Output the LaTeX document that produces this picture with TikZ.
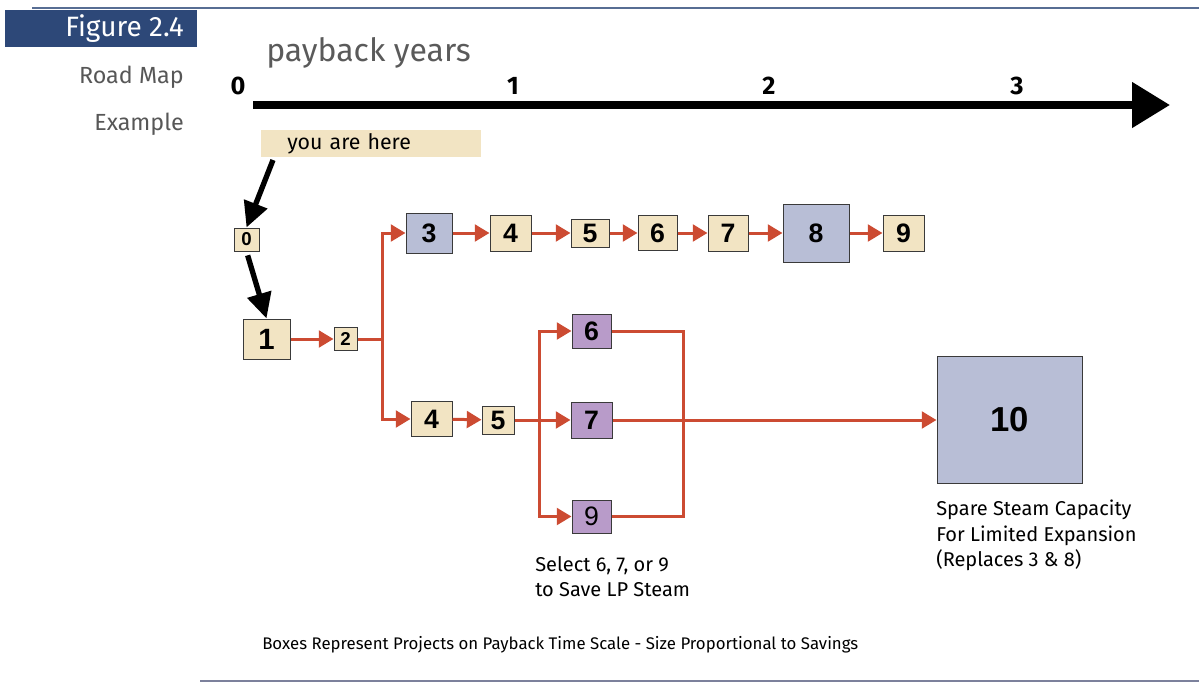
\documentclass[tikz,border=0pt]{standalone}
\usepackage{fontspec}
\setmainfont{Fira Sans}
\newfontfamily\boxfont{Liberation Sans}
\usetikzlibrary{arrows.meta}

\definecolor{figblue}{HTML}{2D4878}
\definecolor{rulegray}{HTML}{7C819C}
\definecolor{projtan}{HTML}{F2E4C3}
\definecolor{projslate}{HTML}{B8BED6}
\definecolor{projlilac}{HTML}{B89BC9}
\definecolor{linkred}{HTML}{CC4B32}
\definecolor{boxline}{HTML}{3A3A3A}
\definecolor{titlegray}{HTML}{5A5A5A}

\begin{document}
\begin{tikzpicture}[x=0.75pt,y=0.75pt,yscale=-1,xscale=1,
  proj/.style={draw=boxline, line width=0.75pt, inner sep=0pt, font=\boxfont\bfseries\fontsize{20}{20}\selectfont},
  tan/.style={proj, fill=projtan},
  slate/.style={proj, fill=projslate},
  lilac/.style={proj, fill=projlilac},
  boxsize/.style 2 args={minimum width=#1pt, minimum height=#2pt},
  redarr/.style={draw=linkred, line width=2.25pt, -{Triangle[length=11pt,width=12.5pt]}},
  redline/.style={draw=linkred, line width=2.25pt},
  blkarr/.style={draw=black, line width=4pt, -{Triangle[length=19pt,width=18pt]}},
  note/.style={anchor=north west, inner sep=0pt, align=left, font=\fontsize{15}{19}\selectfont}
  ]
  \useasboundingbox (0,0) rectangle (1199,682);

  %Rules and figure tag
  \draw [figblue!80, line width=1.5pt] (32,7.5) -- (1199,7.5) ;
  \draw [rulegray, line width=1.5pt] (200,681) -- (1199,681) ;
  \fill [figblue] (5,10) rectangle (197,47) ;

  % Text Node
  \node (figtag) [anchor=east, inner sep=0pt, text=white, font=\fontsize{21}{24}\selectfont] at (184,28.5) {Figure 2.4};
  % Text Node
  \node (roadmap) [anchor=east, inner sep=0pt, text=boxline!85, font=\fontsize{17.5}{22}\selectfont] at (184,77) {Road Map};
  % Text Node
  \node (example) [anchor=east, inner sep=0pt, text=boxline!85, font=\fontsize{17.5}{22}\selectfont] at (184,124) {Example};
  % Text Node
  \node (payback) [anchor=west, inner sep=0pt, text=titlegray, font=\fontsize{24}{28}\selectfont] at (266,53) {payback years};

  %Time axis
  \coordinate (axisstart) at (253,105) ;
  \coordinate (axisend) at (1170,105) ;
  \draw [line width=6pt, -{Triangle[length=28.5pt,width=33pt]}] (axisstart) -- (axisend) ;
  \foreach \yr/\xx in {0/238,1/513,2/769,3/1017}
    \node (yr\yr) [inner sep=0pt, font=\bfseries\fontsize{19}{22}\selectfont] at (\xx,86) {\yr};

  % Text Node
  \node (here) [anchor=west, fill=projtan, inner xsep=19.5pt, inner ysep=0pt, text width=126pt, minimum height=20.25pt, align=left, font=\fontsize{16}{20}\selectfont] at (261,143.5) {you are here};
  \coordinate (herept) at (273,160) ;

  %Projects
  \node (b0) [tan, boxsize={18.75}{17.25}, font=\boxfont\bfseries\fontsize{14}{14}\selectfont] at (246.5,239.5) {0};
  \node (b1) [tan, boxsize={35.25}{30}, font=\boxfont\bfseries\fontsize{22}{22}\selectfont] at (266.5,339) {1};
  \node (b2) [tan, boxsize={17.25}{17.25}, font=\boxfont\bfseries\fontsize{14}{14}\selectfont] at (345.5,339) {2};

  \node (t3) [slate, boxsize={34.5}{30}] at (429,233) {3};
  \node (t4) [tan, boxsize={30.75}{27}] at (510.5,233) {4};
  \node (t5) [tan, boxsize={28.5}{21}] at (590,233) {5};
  \node (t6) [tan, boxsize={29.25}{26.25}] at (657.5,233) {6};
  \node (t7) [tan, boxsize={30}{27}] at (728,233) {7};
  \node (t8) [slate, boxsize={49.5}{43.5}] at (816,233) {8};
  \node (t9) [tan, boxsize={30.75}{27}] at (903.5,233) {9};

  \node (l4) [tan, boxsize={30.75}{26.25}] at (431.5,419) {4};
  \node (l5) [tan, boxsize={24}{21}] at (498,420) {5};

  \node (p6) [lilac, boxsize={29.25}{25.5}] at (591.5,331) {6};
  \node (p7) [lilac, boxsize={30.75}{27}] at (591.5,420) {7};
  \node (p9) [lilac, boxsize={29.25}{24.75}, font=\boxfont\fontsize{20}{20}\selectfont] at (591.5,516.5) {9};

  \node (ten) [slate, boxsize={108.75}{95.25}, font=\boxfont\bfseries\fontsize{26}{26}\selectfont] at (1009.5,420) {10};

  %Connectors
  \draw [blkarr] (herept) -- (b0.north) ;
  \draw [blkarr, shorten <=3pt] (b0.south) -- (b1.north) ;

  \draw [redarr] (b1) -- (b2) ;
  \coordinate (split1) at (382,339) ;
  \draw [redline] (b2.east) -- (split1) ;
  \draw [redarr] (split1) |- (t3.west) ;
  \draw [redarr] (split1) |- (l4.west) ;

  \foreach \a/\b in {t3/t4,t4/t5,t5/t6,t6/t7,t7/t8,t8/t9}
    \draw [redarr] (\a) -- (\b) ;

  \draw [redarr] (l4) -- (l5) ;
  \coordinate (split2) at (539,420) ;
  \draw [redline] (l5.east) -- (split2) ;
  \draw [redarr] (split2) -- (p7) ;
  \draw [redarr] (split2) |- (p6.west) ;
  \draw [redarr] (split2) |- (p9.west) ;

  \draw [redline] (p6.east) -- ++(72,0) |- (p9.east) ;
  \draw [redarr] (p7) -- (ten) ;

  % Text Node
  \node (spare) [note] at (936,500) {Spare Steam Capacity\\For Limited Expansion\\(Replaces 3 \& 8)};
  % Text Node
  \node (select) [note] at (535,556) {Select 6, 7, or 9\\to Save LP Steam};
  % Text Node
  \node (caption) [anchor=west, inner sep=0pt, font=\fontsize{12.6}{15}\selectfont] at (262,645) {Boxes Represent Projects on Payback Time Scale - Size Proportional to Savings};

\end{tikzpicture}
\end{document}
